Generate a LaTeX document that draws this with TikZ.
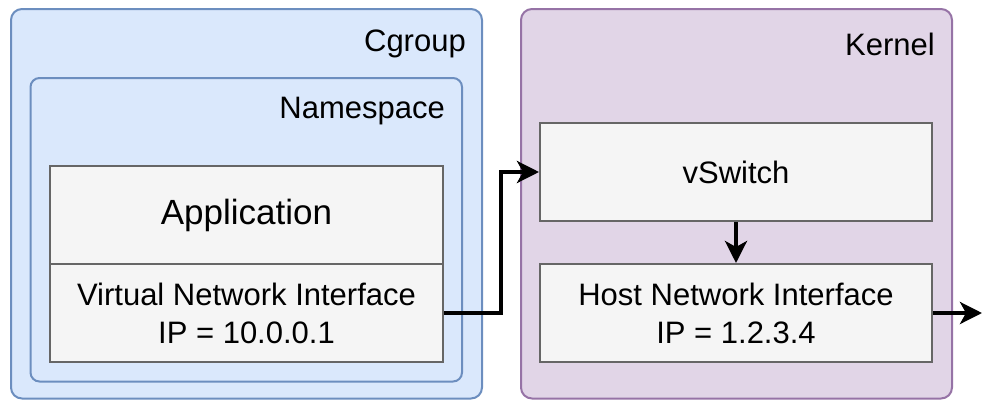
\documentclass[tikz,border=0pt]{standalone}
\usepackage{fontspec}
\setmainfont{Liberation Sans}
\usetikzlibrary{arrows.meta}
\definecolor{bluefill}{HTML}{DAE8FC}
\definecolor{bluedraw}{HTML}{6C8EBF}
\definecolor{purplefill}{HTML}{E1D5E7}
\definecolor{purpledraw}{HTML}{9673A6}
\definecolor{greyfill}{HTML}{F5F5F5}
\definecolor{greydraw}{HTML}{666666}
\tikzset{
  bluebox/.style={draw=bluedraw, fill=bluefill, line width=2pt, rounded corners=11pt, inner sep=0pt},
  purplebox/.style={draw=purpledraw, fill=purplefill, line width=2pt, rounded corners=11pt, inner sep=0pt},
  greybox/.style={draw=greydraw, fill=greyfill, line width=2pt, inner sep=0pt, minimum width=393pt, minimum height=98pt, align=center, font=\fontsize{31}{38}\selectfont},
  lbl/.style={anchor=east, inner sep=0pt, font=\fontsize{31}{37}\selectfont},
  conn/.style={line width=3.9pt, -{Stealth[length=22pt,width=22pt,inset=6pt]}}
}
\begin{document}
\begin{tikzpicture}[x=1pt,y=-1pt]
\useasboundingbox (0,0) rectangle (982,399);
% containers
\node[bluebox, minimum width=471pt, minimum height=389.5pt] (cgroup) at (246.5,203.75) {};
\node[lbl] (cgrouplbl) at (466,44) {Cgroup};
\node[bluebox, rounded corners=9pt, minimum width=431.5pt, minimum height=303.5pt] (ns) at (246.25,229.75) {};
\node[lbl] (nslbl) at (445,111) {Namespace};
\node[purplebox, minimum width=431pt, minimum height=389.5pt] (kernel) at (736.5,203.75) {};
\node[lbl] (kernellbl) at (935,44) {Kernel};
% inner boxes
\node[greybox, font=\fontsize{35}{42}\selectfont] (app) at (246.5,215) {Application};
\node[greybox] (vni) at (246.5,313) {Virtual Network Interface\\IP = 10.0.0.1};
\node[greybox, minimum width=392pt] (vs) at (736,172) {vSwitch};
\node[greybox, minimum width=392pt] (host) at (736,313) {Host Network Interface\\IP = 1.2.3.4};
\coordinate (out) at (982,313);
% connectors
\draw[conn] (vni.east) -- ++(57,0) |- (vs.west);
\draw[conn] (vs.south) -- (host.north);
\draw[conn] (host.east) -- (out);
\end{tikzpicture}
\end{document}
